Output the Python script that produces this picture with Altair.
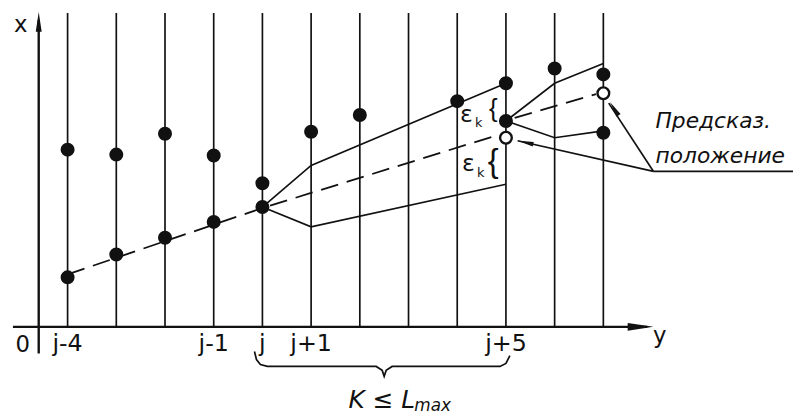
import altair as alt
import pandas as pd

# ---- data (horizontal: scan index relative to j; vertical: coordinate x) ----
cols = list(range(-4, 8))
col_top = 31.7

tick_k = [-4, -1, 0, 1, 5]
tick_text = ["j-4", "j-1", "j", "j+1", "j+5"]

dot_k = [-4, -4, -3, -3, -2, -2, -1, -1, 0, 0, 1, 2, 4, 5, 5, 6, 7, 7]
dot_v = [17.9, 5.0, 17.4, 7.3, 19.5, 9.0, 17.3, 10.6, 14.5, 12.1, 19.7, 21.4,
         22.8, 24.6, 20.8, 26.1, 25.5, 19.6]

open_k = [5, 7]
open_v = [19.1, 23.6]

# predicted (dashed) track segments
dash1_k = [-4, 0, 4.85]
dash1_v = [5.3, 12.0, 19.4]
dash2_k = [5.18, 6.85]
dash2_v = [21.1, 23.5]

# candidate (solid) track branches
up1_k = [0, 1, 5]
up1_v = [12.1, 16.3, 24.6]
lo1_k = [0, 1, 5]
lo1_v = [12.1, 10.1, 14.4]
up2_k = [5, 6, 7]
up2_v = [20.8, 24.6, 26.6]
lo2_k = [5, 6, 7]
lo2_v = [20.8, 19.1, 19.8]

# bottom brace  K <= Lmax
brace_k = [-0.163, -0.122, -0.041, 0.102, 2.337, 2.459, 2.5, 2.541, 2.663, 4.878, 5.0, 5.081]
brace_v = [-2.5, -3.3, -3.8, -4.0, -4.0, -4.4, -5.0, -4.4, -4.0, -4.0, -3.7, -2.9]

# annotation leader lines
lead_k = [[8.03, 5.24], [8.03, 7.11], [8.03, 10.9]]
lead_v = [[15.7, 18.8], [15.7, 22.6], [15.7, 15.7]]

# axis geometry
yaxis_k = -4.593
yaxis_v = [-2.7, 31.0]
xaxis_k = [-5.122, 7.9]

W, H = 793, 408
xs = alt.Scale(domain=[-5.2236, 10.894], nice=False, zero=False)
ys = alt.Scale(domain=[-8.8, 32.0], nice=False, zero=False)
INK = "#111111"
FONT = "DejaVu Sans"


def X(f="k"):
    return alt.X(f"{f}:Q", scale=xs, axis=None)


def Y(f="v"):
    return alt.Y(f"{f}:Q", scale=ys, axis=None)


# vertical scan lines
grid_df = pd.DataFrame({"k": cols, "v": [0.0] * len(cols), "v2": [col_top] * len(cols)})
grid = alt.Chart(grid_df).mark_rule(color=INK, strokeWidth=1.7).encode(
    x=X(), y=Y(), y2="v2:Q")

# axes
yaxis = alt.Chart(pd.DataFrame({"k": [yaxis_k], "v": [yaxis_v[0]], "v2": [yaxis_v[1]]})).mark_rule(
    color=INK, strokeWidth=2.4).encode(x=X(), y=Y(), y2="v2:Q")
xaxis = alt.Chart(pd.DataFrame({"k": [xaxis_k[0]], "k2": [xaxis_k[1]], "v": [0.0]})).mark_rule(
    color=INK, strokeWidth=2.4).encode(x=X(), x2="k2:Q", y=Y())

ARROW = "M0,-1L0.3,1L-0.3,1Z"
heads_df = pd.DataFrame({
    "k": [yaxis_k, 7.764, 5.402, 7.224],
    "v": [30.8, 0.0, 18.62, 22.03],
    "ang": [0, 90, 283, 327],
    "sz": [400, 676, 256, 256],
})
heads = alt.Chart(heads_df).mark_point(shape=ARROW, filled=True, color=INK, opacity=1).encode(
    x=X(), y=Y(), angle=alt.Angle("ang:Q", scale=None),
    size=alt.Size("sz:Q", scale=None, legend=None))

# tracks
rows = []
for name, ks, vs, dashed in [("d1", dash1_k, dash1_v, True), ("d2", dash2_k, dash2_v, True),
                              ("u1", up1_k, up1_v, False), ("l1", lo1_k, lo1_v, False),
                              ("u2", up2_k, up2_v, False), ("l2", lo2_k, lo2_v, False),
                              ("br", brace_k, brace_v, False)]:
    for i, (a, b) in enumerate(zip(ks, vs)):
        rows.append({"k": a, "v": b, "t": name, "o": i, "dashed": dashed})
for n, (ks, vs) in enumerate(zip(lead_k, lead_v)):
    for i, (a, b) in enumerate(zip(ks, vs)):
        rows.append({"k": a, "v": b, "t": f"lead{n}", "o": i, "dashed": False})
tr = pd.DataFrame(rows)

solid = alt.Chart(tr[~tr.dashed]).mark_line(color=INK, strokeWidth=1.7).encode(
    x=X(), y=Y(), detail="t:N", order="o:Q")
dashed = alt.Chart(tr[tr.dashed]).mark_line(color=INK, strokeWidth=1.8, strokeDash=[18, 9]).encode(
    x=X(), y=Y(), detail="t:N", order="o:Q")

dots = alt.Chart(pd.DataFrame({"k": dot_k, "v": dot_v})).mark_circle(
    size=200, color=INK, opacity=1).encode(x=X(), y=Y())
opens = alt.Chart(pd.DataFrame({"k": open_k, "v": open_v})).mark_point(
    shape="circle", size=140, filled=True, fill="white", stroke=INK, strokeWidth=2.4, opacity=1).encode(
    x=X(), y=Y())

# tick labels
ticks = alt.Chart(pd.DataFrame({"k": tick_k, "v": [-2.4] * len(tick_k), "t": tick_text})).mark_text(
    font=FONT, fontSize=24, color=INK, align="center", baseline="alphabetic").encode(
    x=X(), y=Y(), text="t:N")

# free texts
txt_df = pd.DataFrame({
    "k": [-4.919, -4.96, 8.16],
    "v": [-2.5, 29.8, -1.6],
    "t": ["0", "x", "y"],
})
axtxt = alt.Chart(txt_df).mark_text(font=FONT, fontSize=23, color=INK, align="center",
                                    baseline="alphabetic").encode(x=X(), y=Y(), text="t:N")

pred = alt.Chart(pd.DataFrame({"k": [8.07, 8.07], "v": [20.1, 16.6],
                               "t": ["Предсказ.", "положение"]})).mark_text(
    font=FONT, fontSize=22, fontStyle="italic", color=INK, align="left", baseline="alphabetic").encode(
    x=X(), y=Y(), text="t:N")

eps = alt.Chart(pd.DataFrame({"k": [4.19, 4.23], "v": [21.4, 16.4], "t": ["ε", "ε"]})).mark_text(
    font=FONT, fontSize=24, color=INK, align="center", baseline="middle").encode(x=X(), y=Y(), text="t:N")
epsk = alt.Chart(pd.DataFrame({"k": [4.44, 4.48], "v": [20.6, 15.5], "t": ["k", "k"]})).mark_text(
    font=FONT, fontSize=13, color=INK, align="center", baseline="middle").encode(x=X(), y=Y(), text="t:N")
br1 = alt.Chart(pd.DataFrame({"k": [4.74], "v": [22.0], "t": ["{"]})).mark_text(
    font="Liberation Sans", fontSize=26, color=INK, align="center", baseline="middle").encode(
    x=X(), y=Y(), text="t:N")
br2 = alt.Chart(pd.DataFrame({"k": [4.74], "v": [16.6], "t": ["{"]})).mark_text(
    font="Liberation Sans", fontSize=33, color=INK, align="center", baseline="middle").encode(
    x=X(), y=Y(), text="t:N")

kl = alt.Chart(pd.DataFrame({"k": [1.768], "v": [-8.2], "t": ["K ≤ L"]})).mark_text(
    font=FONT, fontSize=25, fontStyle="italic", color=INK, align="left", baseline="alphabetic").encode(
    x=X(), y=Y(), text="t:N")
kmax = alt.Chart(pd.DataFrame({"k": [3.12], "v": [-8.5], "t": ["max"]})).mark_text(
    font=FONT, fontSize=17, fontStyle="italic", color=INK, align="left", baseline="alphabetic").encode(
    x=X(), y=Y(), text="t:N")

chart = alt.layer(grid, yaxis, xaxis, solid, dashed, heads, dots, opens, ticks, axtxt, pred,
                  eps, epsk, br1, br2, kl, kmax).properties(
    width=W, height=H, padding=0, autosize=alt.AutoSizeParams(type="none"),
    background="white").configure_view(stroke=None)

chart.save("out.html", embed_options={"renderer": "svg", "actions": False})
